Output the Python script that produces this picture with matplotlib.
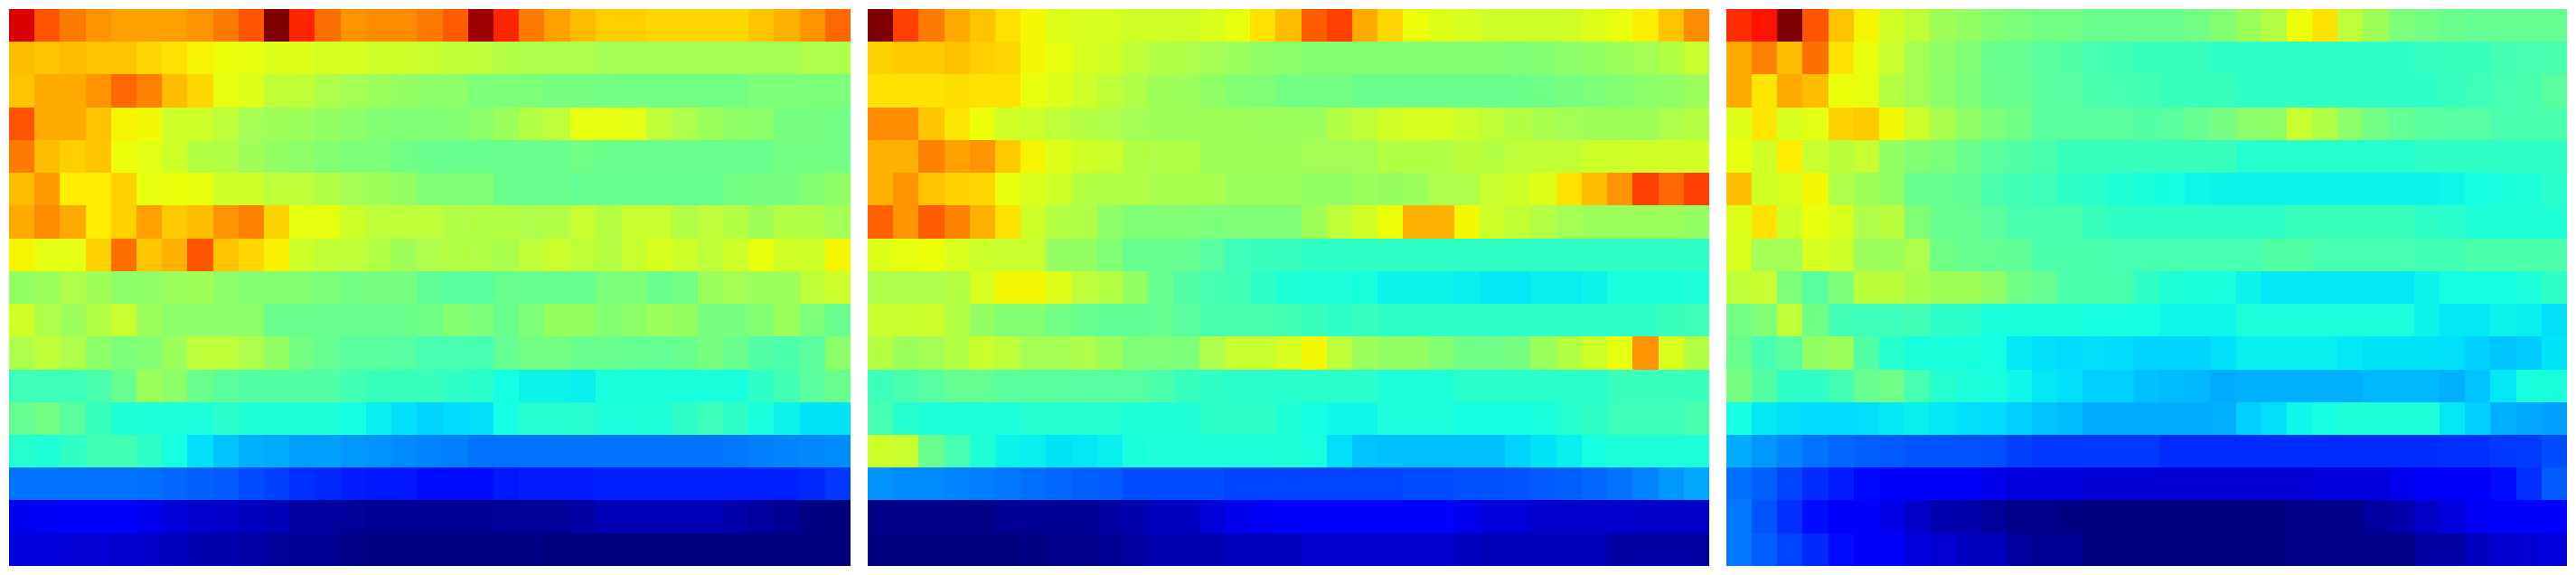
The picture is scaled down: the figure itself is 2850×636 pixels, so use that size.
import numpy as np
import matplotlib
matplotlib.use('Agg')
import matplotlib.pyplot as plt

# values, one row per line, top row first (33 columns, 17 rows)
panel1 = [
    [92,82,78,75,74,74,74,75,78,82,100, 87,79,75,76,76,78,81,97,87,78,74, 71,69,69,68,68,68,68,70,72,75,80],
    [71,70,71,70,70,68,67,65,64,63.5,62, 62,61,61,60,60,59,58,58,57,56,56, 56,55,55,55,55,55,55,55,55,56,56],
    [70,73,73,75,80,77,71,68,63,62,58, 58,56,55,54,53,52,52,50,50,50,49.5, 49.5,49,49,49,49,49,49,50,50,50,50],
    [82,73,73,70,65,64.5,60,60,58,55,54.5, 54,53,52,51,50.5,50.5,51,52,54,57,58, 63,63,62.5,58,56,54,52.5,52,49.5,49.5,49],
    [78,71,69,70,64,62.5,60,57,56.5,54.5,53, 52,51,50,50,48.5,48,47.5,47.5,48,48,48, 48.5,48,48,48,48,48,48,48,49,49,49],
    [71,74.5,66,66,68.5,63,64,63.5,60,60,58, 58,57,55,54.5,53,50.5,50.5,50.5,48,48,48, 47,47.5,47,47,47,47,49,49.5,49.5,51,52.5],
    [73,76,73,66,68.5,74,69.5,71,75,77,68.5, 63,63,60,58,58,58,56.5,57,57,56,56.5, 59,57,59,59,56.5,58,57,54.5,57,56.5,55],
    [65,62.5,62.5,68.5,79,70,72,82,70,68,65.5, 60,58.5,58,57,54.5,56,57,56.5,55.5,58,59.5, 58,57,59,61,60,58,60,63.5,60.5,60,65],
    [53,54,56,54.5,52,52.5,54,54.5,52,51,51, 51,50,49,49.5,49.5,46.5,46,46,48,47,47, 47.5,50,50,48,49,54,55,54,54,58,60],
    [60.5,56,54,57,59,54,52,52,52,52,48, 48,48,48,48,48,48.5,51,50,48,50,53.5, 53.5,51,52,54,53.5,49.5,49.5,51,54,50,47.5],
    [56,58,56,52,50,51,54,58,58,56,53, 49,47,46,46,45.5,43.5,43.5,43.5,47,49,49, 48,48,47,47,48,49.5,48,45,44.5,46,52],
    [42.5,42.5,42.5,44,47.5,54,52,48,46,45,45, 45,45,43,42,42,42,41,40,37.5,36.5,36.5, 36,38,38,38,38,38,38,41,43,46,48],
    [47,49,46,42,39,38.5,38.5,38.5,40,39,39, 39,39,37.5,36,34.5,33.5,34,34.5,37.5,39.5,39.5, 40,38.5,38.5,39,41,42.5,41,38,36.5,35,35],
    [39.5,39,41,43,43,41,37.5,34.5,32,30,29.5, 28.5,28.5,27.5,27,26.5,25.5,25,24,24,24,24, 24,24,24,24,24,24,24.5,25,25.5,26,26.5],
    [24,24,24,24,24,23.5,23,22,21.5,20,19, 17.5,16.5,15.5,15,15,14,14,14,15,15.5,15.5, 15.5,16,16,16,16,16,16,16,16,16.5,18],
    [10,10.5,11,11,11,10,8,7,6.5,5.5,5, 3.5,3,2.5,2,2,2,2,2,2.5,2.5,2.5, 3.5,5,5,5,5,5,4,3,2,.5,0],
    [8.5,8.5,7.5,7.5,7,6.5,6,4.5,4,3.5,2.5, 2,2,1,.5,.5,.5,.5,.5,.5,.5,.3, .3,.3,.3,.3,.3,.3,.3,.3,0,0,0],
]

panel2 = [
    [100,84,78,73,70,67,64.5,62,61,61,60.5, 60.5,60.5,61.5,63.5,67,71,81,84,73,68,64, 62,61,60,60,60,60.5,62,63.5,65.5,70,76],
    [68.5,69.5,69.5,70.5,69,68,64.5,63.5,61,60.5,58, 57,56,55,54,52.5,52,51,51,51,51,51, 51,51,51,50.5,51,52,53,54,55,57,59],
    [67,67,67,67.5,67,67,63.5,62,60,58,56.5, 54.5,54,52.5,51,50.5,49,49,49,48,48,48, 48,48,48,48,48.5,49.5,50,51,52,52.5,54],
    [76,76,70,66.5,64,60.5,59.5,58,57,56,55, 54.5,54.5,54.5,54.5,54,54,54,57,58.5,60.5,61, 61,59.5,58.5,57,55.5,55,54.5,54.5,54.5,56,57],
    [72,72,77,74,75,69.5,65,62,60.5,59.5,57, 56.5,56.5,54.5,54.5,54.5,54.5,55,55,55,57,57, 56.5,57.5,57,58,58.5,58.5,60,60,60.5,60.5,60.5],
    [72,75,70,68.5,68,63.5,61.5,60,57,56.5,56.5, 55.5,55.5,55.5,54,54,54,53,53,54,53.5,54, 56,56,59,60.5,62,67,71,75,84,80,84],
    [80.5,75,81,77,72,67,60,57,56.5,52,50.5, 50.5,50.5,50,50.5,50.5,50.5,54.5,58,60.5,64,72, 72,64.5,60,58.5,57,55,54,54,54,54,53],
    [62,63,64,61.5,59.5,59,59,53,53,50.5,47.5, 47.5,47.5,45.5,42.5,42,41.5,41,41,41,41,41, 41,41,41,41,41,41,41,41,41,41,41],
    [56,56,56,57,61,64.5,64.5,62,58,57,53, 47.5,45,43.5,43,40.5,39,38.5,38.5,38,36.5,36.5, 36.5,36,35.5,35.5,36,36,36.5,38,38,38,38.5],
    [59,59,59.5,57,53,51,51,49,47.5,46.5,46.5, 47,46,44,44,44,43,42,41,41.5,41,41, 41,41,40.5,40.5,40.5,40.5,40.5,40.5,41,42,42.5],
    [57,54,55,57,59,58,55,55,56,54,50.5, 50.5,50,56,59,59,61,64.5,58,54,53,53, 51,48.5,48.5,49.5,54,57,60,63,75,61.5,57],
    [42.5,44,45.5,47,47,46,46,46,45.5,45.5,45.5, 44.5,42,41,40,40,40,40,40,40,38.5,38.5, 38.5,40,40,40,40,40,40,42,42,42,42],
    [43.5,39.5,38.5,38.5,38.5,38.5,39.5,39.5,39.5,39.5,39, 39,39,40.5,40.5,40.5,39,37.5,37,37,38.5,38.5, 38.5,37.5,37.5,37.5,38,39.5,41,42.5,42.5,42.5,44],
    [60,59,48,43.5,39,36.5,36,35,35.5,36,38, 38.5,38.5,38.5,38.5,38.5,39,38,34.5,32,31.5,31.5, 31.5,31.5,31.5,33.5,35,36,37.5,38.5,38.5,38.5,38.5],
    [27,26.5,26.5,25.5,25,24.5,23.5,23,22,21.5,20, 20,20,20,19.5,19.5,19.5,19.5,19.5,19.5,19.5,20, 20,20.5,20.5,21,21.5,22,23,24,25.5,27.5,29],
    [1,1,1,1,1,2,2,2,2,3.5,4, 5.5,5.5,8,9.5,10.5,11,11,11,11,12,12, 12,10,8.5,8,7,7,7,7,6.5,6.5,6.5],
    [0,0,0,0,0,0,.5,1.5,1.5,2,3, 4.5,4.5,4.5,5.5,5.5,5.5,7,7,7,7,7, 7,6,5,5,5,5,5,3.5,3.5,3.5,3.5],
]

panel3 = [
    [86,89,100,82,70,65,60.5,58,54.5,53,51, 50,49,49,48,48,48,48,49,51,54,57, 64,67,58,54.5,50,49,48,47,47,47,47],
    [73,77,71,79,67,63.5,59,55,52.5,50.5,47.5, 47,46,45,43.5,43,42,42,42,41,41,41, 41,41,41,41,41,41.5,42,42,43,43.5,44],
    [73,66.5,73,71,64,63,57,55,52,50,48, 47.5,46,45.5,44.5,43.5,43,42,42,42,41,41, 41,41,41,41,41,41,41.5,42.5,43.5,44,46],
    [62,66.5,61,62.5,68.5,69.5,64.5,59.5,55.5,52.5,50, 48.5,46,46,46,46,45,46,47.5,49.5,52,52.5, 59,56.5,52,49,47,46,45.5,45.5,44,44,44],
    [63.5,60.5,66,59,57.5,59,53,51,50,48,46, 45,44,42,42,42,42,42,42,42,39.5,39.5, 39.5,39.5,39.5,39.5,39.5,41,41,41,41,41,41],
    [71,60.5,61.5,64.5,56,54.5,53,47.5,47,46.5,44, 43,42.5,41,40,39,38,37.5,37,36.5,36.5,36.5, 36.5,36.5,36.5,36.5,36.5,36.5,37,37.5,38,38.5,40],
    [62,67,60,63.5,61.5,56,57.5,50.5,47.5,47,46, 44,44,44,42,41,41,41,41,41,41,41, 42,42,42,42,42,41,40,39,39,39,39],
    [61.5,55,55,61,60,54,54,56,48.5,47.5,47, 46.5,44.5,44.5,44.5,43.5,43.5,43.5,43.5,43.5,43.5,45, 45,43.5,43.5,43.5,43.5,43,43,44.5,44.5,44.5,44.5],
    [58,59,50,46,50,57.5,57.5,55.5,54.5,54.5,52.5, 48.5,47.5,44.5,44.5,44,41,39,38,38,36.5,35.5, 35.5,35.5,35.5,35.5,35.5,36.5,37.5,37.5,37.5,38.5,41],
    [49,50.5,58,48.5,43,42.5,42.5,43,41,40.5,38, 38,38,38,37.5,37.5,37.5,37,37,37,38.5,38.5, 38.5,38.5,38.5,38.5,38.5,36.5,35.5,35.5,36.5,36,34.5],
    [48,43.5,46,53,54,45,39.5,38,38,38,37.5, 35.5,34.5,34,34.5,34,33.5,33.5,33.5,34.5,36,36, 36,36,35.5,35,35,35,34.5,33,32,32.5,35],
    [49.5,45,41,41,43,47.5,48.5,43.5,39.5,38.5,38, 37,35.5,34.5,33,33,31.5,31,30.5,29.5,30,30, 30,30,30,30.5,30.5,30.5,30,32,35.5,38,38],
    [37.5,35.5,34.5,34,34,34.5,35.5,36,35.5,34.5,34, 33,32,31,29.5,29.5,29.5,29.5,29.5,30,33,34.5, 37,37.5,39,39,39,39,35.5,33,30,29,28.5],
    [29.5,27.5,25.5,24,23,22,21.5,21,21,21,20.5, 19,18,18,18,18,18,17,17,17,17,17, 17,17,17,17,17,17,17.5,17.5,18,18.5,20],
    [23.5,22,19.5,17,15.5,13.5,12,11,11,11,9.5, 8.5,8.5,8.5,7.5,7.5,7.5,7.5,7.5,7.5,7.5,7.5, 7.5,8.5,8.5,8.5,10,11,11,12,14,17.5,21.5],
    [24.5,21,17.5,14,12,11,9,6.5,4.5,4,2.5, 1.5,1.5,.5,0,0,0,0,0,0,0,0, 1,1,1,3,4,6.5,8.5,10.5,11,11,11],
    [24.5,22,19.5,16.5,14,11,11,8.5,7.5,6,5.5, 3,2,2,0,0,0,0,0,0,0,0, 1,1,1,1,1,3.5,3.5,6,7,7.5,8.5],
]

W, H = 2850, 636
fig = plt.figure(figsize=(W / 100, H / 100), dpi=100)

# left edge of each panel in pixels, all 930 x 616
for left, values in zip([10, 960, 1910], [panel1, panel2, panel3]):
    ax = fig.add_axes([left / W, 10 / H, 930 / W, 616 / H])
    ax.imshow(np.array(values), cmap='jet', vmin=0, vmax=100, aspect='auto', interpolation='nearest')
    ax.axis('off')

fig.savefig('out.png', dpi=100)
